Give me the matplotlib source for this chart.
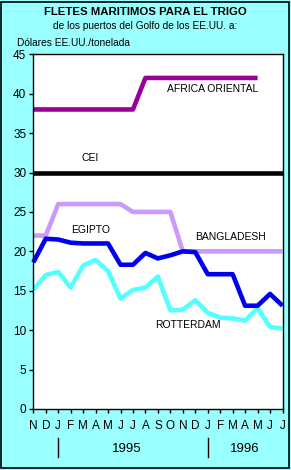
import numpy as np
import matplotlib
matplotlib.use('Agg')
import matplotlib.pyplot as plt
from matplotlib.patches import Rectangle

plt.rcParams['font.family'] = ['Liberation Sans', 'DejaVu Sans']

# Data: monthly freight rates, Nov 1994 - Jul 1996 (US$/t)
months = ['N', 'D', 'J', 'F', 'M', 'A', 'M', 'J', 'J', 'A', 'S', 'O',
          'N', 'D', 'J', 'F', 'M', 'A', 'M', 'J', 'J']
africa = [38, 38, 38, 38, 38, 38, 38, 38, 38, 42, 42, 42,
          42, 42, 42, 42, 42, 42, 42, np.nan, np.nan]
cei = [30] * 21
bangladesh = [22, 22, 26, 26, 26, 26, 26, 26, 25, 25, 25, 25,
              20, 20, 20, 20, 20, 20, 20, 20, 20]
egipto = [18.6, 21.6, 21.5, 21.1, 21.0, 21.0, 21.0, 18.3, 18.3, 19.8, 19.1, 19.5,
          20.0, 19.9, 17.1, 17.1, 17.1, 13.1, 13.1, 14.6, 13.1]
rotterdam = [15.1, 17.0, 17.4, 15.4, 18.2, 18.9, 17.5, 14.0, 15.1, 15.4, 16.8, 12.5,
             12.6, 13.8, 12.2, 11.6, 11.5, 11.2, 12.8, 10.4, 10.2]
years = ['1995', '1996']

bg = '#99FFFF'
x = np.arange(len(months))

fig = plt.figure(figsize=(2.91, 4.70), dpi=100, facecolor=bg)
ax = fig.add_axes([0.1144, 0.1298, 0.8564, 0.7547])

lw = 3.3
ax.plot(x, africa, color='#990099', lw=lw, solid_capstyle='butt')
ax.plot(x, cei, color='black', lw=lw, solid_capstyle='butt', clip_on=False)
ax.plot(x, bangladesh, color='#CC99FF', lw=lw, solid_capstyle='butt', clip_on=False)
ax.plot(x, rotterdam, color='#55FFFF', lw=lw, solid_capstyle='butt', clip_on=False)
ax.plot(x, egipto, color='#0000EE', lw=lw, solid_capstyle='butt', clip_on=False)

ax.set_xlim(0, 20)
ax.set_ylim(0, 45)
ax.set_yticks(range(0, 46, 5))
ax.set_xticks(x)
ax.set_xticklabels(months)
ax.set_xticks([2, 14], minor=True)
ax.tick_params(axis='x', which='major', length=3, width=1, pad=5, labelsize=8.5)
ax.tick_params(axis='x', which='minor', length=7, width=1)
ax.tick_params(axis='y', length=3, width=1, pad=2, labelsize=8.5)
for s in ax.spines.values():
    s.set_linewidth(1)

lab = dict(fontsize=7.5, ha='center', va='center')
ax.text(14.4, 40.6, 'AFRICA ORIENTAL', **lab)
ax.text(4.6, 31.9, 'CEI', **lab)
ax.text(4.6, 22.7, 'EGIPTO', **lab)
ax.text(15.8, 21.8, 'BANGLADESH', **lab)
ax.text(12.4, 10.6, 'ROTTERDAM', **lab)

# year separators and labels
tr = ax.get_xaxis_transform()
for xs in [2, 14]:
    ax.plot([xs, xs], [-0.082, -0.135], color='black', lw=1, transform=tr, clip_on=False)
ax.text(7.5, -0.113, years[0], transform=tr, ha='center', va='center', fontsize=9.5)
ax.text(17, -0.113, years[1], transform=tr, ha='center', va='center', fontsize=9.5)

fig.text(0.5, 0.974, 'FLETES MARITIMOS PARA EL TRIGO', ha='center', va='center',
         fontsize=8.2, fontweight='bold')
fig.text(0.5, 0.944, 'de los puertos del Golfo de los EE.UU. a:', ha='center',
         va='center', fontsize=7.3)
fig.text(0.058, 0.908, 'Dólares EE.UU./tonelada', ha='left', va='center', fontsize=7.3)

fig.patches.append(Rectangle((0.004, 0.004), 0.988, 0.992, transform=fig.transFigure,
                             fill=False, edgecolor='black', lw=1.2))

fig.savefig('out.png', dpi=100, facecolor=bg)
